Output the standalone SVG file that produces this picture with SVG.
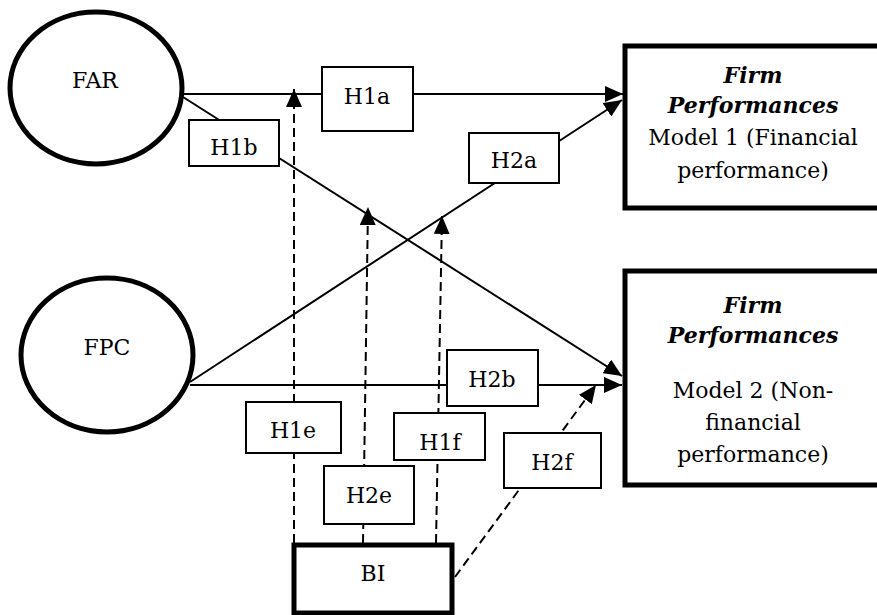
<svg xmlns="http://www.w3.org/2000/svg" width="877" height="615" viewBox="0 0 877 615">
<style>
text{font-family:"DejaVu Serif","Liberation Serif",serif;font-size:22px;fill:#000;text-anchor:middle}
.bi{font-weight:bold;font-style:italic}
.hyp{fill:#fff;stroke:#000;stroke-width:2}
.big{fill:#fff;stroke:#000;stroke-width:5}
.ell{fill:#fff;stroke:#000;stroke-width:5}
.c{stroke:#000;stroke-width:2;fill:none}
.d{stroke:#000;stroke-width:2;fill:none;stroke-dasharray:9 5}
</style>
<defs>
<marker id="ah" markerUnits="userSpaceOnUse" markerWidth="20" markerHeight="16" refX="18" refY="8" orient="auto">
<path d="M0,0 L18,8 L0,16 Z" fill="#000"/>
</marker>
</defs>
<g id="connectors">
<line class="c" x1="183" y1="94" x2="623" y2="94" marker-end="url(#ah)"/>
<line class="c" x1="183" y1="97" x2="622" y2="376" marker-end="url(#ah)"/>
<line class="c" x1="190" y1="382" x2="622" y2="100" marker-end="url(#ah)"/>
<line class="c" x1="190" y1="385" x2="622" y2="385" marker-end="url(#ah)"/>
<line class="d" x1="294" y1="543" x2="294" y2="89" marker-end="url(#ah)"/>
<line class="d" x1="363" y1="543" x2="368" y2="207" marker-end="url(#ah)"/>
<line class="d" x1="436" y1="543" x2="442" y2="216" marker-end="url(#ah)"/>
<line class="d" x1="455" y1="577" x2="596" y2="385" marker-end="url(#ah)"/>
</g>
<g id="FAR"><ellipse class="ell" cx="96" cy="88" rx="86" ry="76"/><text x="95" y="88">FAR</text></g>
<g id="FPC"><ellipse class="ell" cx="107" cy="355" rx="86" ry="77"/><text x="107" y="355">FPC</text></g>
<g id="M1"><rect class="big" x="625" y="46" width="260" height="162"/>
<text x="753" y="83" class="bi">Firm</text>
<text x="753" y="113" class="bi">Performances</text>
<text x="753" y="145">Model 1 (Financial</text>
<text x="753" y="178">performance)</text></g>
<g id="M2"><rect class="big" x="625" y="271" width="260" height="214"/>
<text x="753" y="313" class="bi">Firm</text>
<text x="753" y="343" class="bi">Performances</text>
<text x="753" y="398">Model 2 (Non-</text>
<text x="753" y="430">financial</text>
<text x="753" y="462">performance)</text></g>
<g id="BI"><rect class="big" x="294" y="545" width="158" height="68"/><text x="373" y="581">BI</text></g>
<g id="H1a"><rect class="hyp" x="322" y="67" width="91" height="64"/><text x="367" y="104">H1a</text></g>
<g id="H1b"><rect class="hyp" x="189" y="120" width="90" height="46"/><text x="234" y="155">H1b</text></g>
<g id="H2a"><rect class="hyp" x="469" y="133" width="90" height="50"/><text x="514" y="168">H2a</text></g>
<g id="H2b"><rect class="hyp" x="447" y="350" width="91" height="56"/><text x="492" y="387">H2b</text></g>
<g id="H1e"><rect class="hyp" x="246" y="402" width="95" height="51"/><text x="293" y="438">H1e</text></g>
<g id="H1f"><rect class="hyp" x="394" y="413" width="91" height="47"/><text x="440" y="450">H1f</text></g>
<g id="H2e"><rect class="hyp" x="324" y="466" width="90" height="58"/><text x="369" y="503">H2e</text></g>
<g id="H2f"><rect class="hyp" x="504" y="433" width="97" height="55"/><text x="552" y="470">H2f</text></g>
</svg>
